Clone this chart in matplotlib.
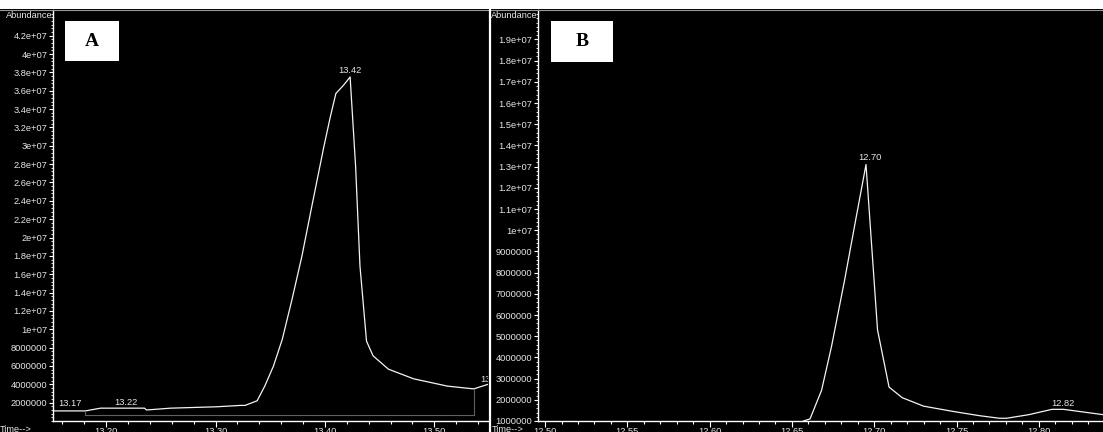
import numpy as np
import matplotlib
matplotlib.use("Agg")
import matplotlib.pyplot as plt
from matplotlib.ticker import FixedLocator, FuncFormatter, MultipleLocator, AutoMinorLocator
from matplotlib.patches import Rectangle
from matplotlib.lines import Line2D

# ---- data (abundance in units of 1e6) ----
a_time = [13.1515, 13.181, 13.195, 13.235, 13.237, 13.259, 13.301, 13.323, 13.327,
          13.338, 13.345, 13.353, 13.361, 13.370, 13.379, 13.388, 13.399, 13.405,
          13.410, 13.417, 13.423, 13.428, 13.432, 13.438, 13.444, 13.458, 13.481,
          13.512, 13.536, 13.549]
a_abund = [1.1, 1.1, 1.4, 1.4, 1.2, 1.4, 1.55, 1.7, 1.7,
           2.2, 3.8, 6.0, 8.9, 13.3, 18.0, 23.4, 29.9, 33.2,
           35.7, 36.6, 37.5, 27.8, 16.9, 8.7, 7.1, 5.65, 4.6,
           3.8, 3.5, 4.0]
a_peaks = ["13.17", "13.22", "13.42", "13"]
a_peak_t = [13.167, 13.218, 13.423, 13.542]
a_peak_y = [1.4, 1.5, 37.7, 4.0]
a_base_t = [13.181, 13.536]
a_base_y = [0.65, 0.65]

b_time = [12.655, 12.657, 12.661, 12.668, 12.674, 12.682, 12.689, 12.695, 12.702,
          12.709, 12.717, 12.730, 12.748, 12.764, 12.776, 12.7805, 12.794, 12.808,
          12.815, 12.839]
b_abund = [0.9, 1.0, 1.1, 2.45, 4.5, 7.65, 10.6, 13.1, 5.3,
           2.6, 2.1, 1.7, 1.45, 1.25, 1.13, 1.13, 1.3, 1.55,
           1.55, 1.3]
b_peaks = ["12.70", "12.82"]
b_peak_t = [12.6973, 12.8145]
b_peak_y = [13.2, 1.6]

a_xticks = [13.20, 13.30, 13.40, 13.50]
a_yticks = np.arange(2, 43, 2) * 1e6
b_xticks = [12.50, 12.55, 12.60, 12.65, 12.70, 12.75, 12.80]
b_yticks = np.arange(1, 20, 1) * 1e6

W, H = 1103, 432
FONT = "Liberation Sans"
FS = 6.7
TXT = "#e6e6e6"

fig = plt.figure(figsize=(W / 100, H / 100), dpi=100, facecolor="black")


def box(x0, y0, x1, y1):
    return [x0 / W, 1 - y1 / H, (x1 - x0) / W, (y1 - y0) / H]


def style(ax, xlim, ylim, xticks, yticks, xminor):
    ax.set_facecolor("black")
    ax.set_xlim(*xlim)
    ax.set_ylim(*ylim)
    for s in ["top", "right"]:
        ax.spines[s].set_visible(False)
    for s in ["left", "bottom"]:
        ax.spines[s].set_color("white")
        ax.spines[s].set_linewidth(1)
    ax.xaxis.set_major_locator(FixedLocator(xticks))
    ax.xaxis.set_minor_locator(MultipleLocator(xminor))
    ax.yaxis.set_major_locator(FixedLocator(yticks))
    ax.yaxis.set_minor_locator(AutoMinorLocator(5))
    ax.xaxis.set_major_formatter(FuncFormatter(lambda v, p: "%.2f" % v))
    ax.yaxis.set_major_formatter(FuncFormatter(lambda v, p: "%.7g" % v))
    ax.tick_params(axis="both", which="major", colors="white", labelcolor=TXT,
                   labelsize=FS, width=0.8)
    ax.tick_params(axis="x", which="major", length=4, pad=0)
    ax.tick_params(axis="y", which="major", length=3, pad=1)
    ax.tick_params(axis="x", which="minor", colors="white", length=2.5, width=0.8)
    ax.tick_params(axis="y", which="minor", colors="white", length=1.2, width=0.6)
    for lab in ax.get_xticklabels() + ax.get_yticklabels():
        lab.set_fontfamily(FONT)


# panel A
axA = fig.add_axes(box(53, 10, 488, 421))
style(axA, (13.1515, 13.549), (0, 44.8e6), a_xticks, a_yticks, 0.02)
axA.plot(a_time, np.array(a_abund) * 1e6, color="#f4f4f4", lw=0.9)
axA.plot(a_base_t, np.array(a_base_y) * 1e6, color="#606060", lw=0.8)
axA.vlines(a_base_t, np.array(a_base_y) * 1e6, [1.1e6, 3.5e6], color="#606060", lw=0.8)
for lab, t, y in zip(a_peaks, a_peak_t, a_peak_y):
    ha = "left" if lab == "13" else "center"
    axA.text(t, y * 1e6, lab, ha=ha, va="bottom", color=TXT, fontsize=FS,
             family=FONT, clip_on=True)

# panel B
axB = fig.add_axes(box(538, 10, 1103, 421))
style(axB, (12.4957, 12.839), (1e6, 20.39e6), b_xticks, b_yticks, 0.01)
axB.plot(b_time, np.array(b_abund) * 1e6, color="#f4f4f4", lw=0.9)
for lab, t, y in zip(b_peaks, b_peak_t, b_peak_y):
    axB.text(t, y * 1e6, lab, ha="center", va="bottom", color=TXT, fontsize=FS,
             family=FONT)

# axis captions
for x in [53, 538]:
    fig.text(x / W, 1 - 16 / H, "Abundance", ha="right", va="center", color=TXT,
             fontsize=FS, family=FONT)
for x in [0, 492]:
    fig.text(x / W, 1 - 429 / H, "Time-->", ha="left", va="center", color=TXT,
             fontsize=FS, family=FONT)

# panel letters
for (x0, y0, x1, y1), letter in [((65, 21, 119, 61), "A"), ((551, 21, 613, 62), "B")]:
    fig.patches.append(Rectangle((x0 / W, 1 - y1 / H), (x1 - x0) / W, (y1 - y0) / H,
                                 transform=fig.transFigure, facecolor="white",
                                 edgecolor="none", zorder=5))
    fig.text((x0 + x1) / 2 / W, 1 - (y0 + y1) / 2 / H, letter, ha="center", va="center",
             color="black", fontsize=14, fontweight="bold", family="Liberation Serif",
             zorder=6)

# white strip on top and divider between the two screenshots
fig.patches.append(Rectangle((0, 1 - 9 / H), 1, 9 / H, transform=fig.transFigure,
                             facecolor="white", edgecolor="none", zorder=4))
fig.lines.append(Line2D([0, 1], [1 - 9.5 / H] * 2, transform=fig.transFigure,
                        color="#9a9a9a", lw=0.8, zorder=5))
fig.lines.append(Line2D([490 / W] * 2, [0, 1 - 9 / H], transform=fig.transFigure,
                        color="white", lw=1.6, zorder=5))

fig.savefig("out.png", dpi=100, facecolor="black")
